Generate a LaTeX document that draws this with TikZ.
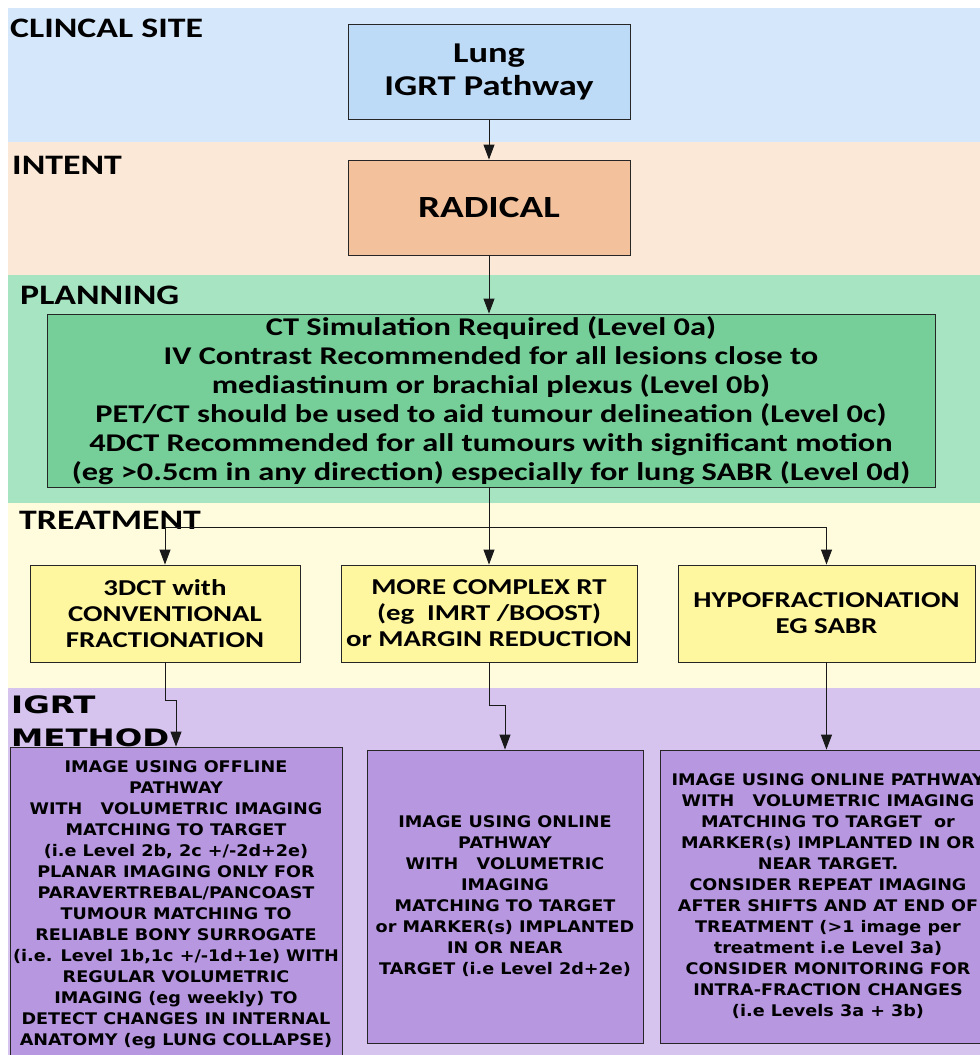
\documentclass[tikz,border=0pt]{standalone}
\usepackage{fontspec}
\usetikzlibrary{arrows.meta}

\newfontfamily\calfont[FakeStretch=1.27]{Carlito}
\newfontfamily\vfont[FakeStretch=1.1]{DejaVu Sans}
\newfontfamily\vwidefont[FakeStretch=1.35]{DejaVu Sans}

\definecolor{siteband}{RGB}{213,232,251}
\definecolor{sitefill}{RGB}{189,219,247}
\definecolor{intentband}{RGB}{251,232,214}
\definecolor{intentfill}{RGB}{243,193,156}
\definecolor{planband}{RGB}{166,228,194}
\definecolor{planfill}{RGB}{118,206,152}
\definecolor{treatband}{RGB}{255,252,222}
\definecolor{treatfill}{RGB}{255,246,160}
\definecolor{igrtband}{RGB}{214,195,238}
\definecolor{igrtfill}{RGB}{183,152,224}

\begin{document}
\begin{tikzpicture}[x=1pt,y=-1pt]
	\tikzset{box/.style = {draw=black!85, line width=0.9pt, inner sep=0pt, align=center},
		flow/.style = {-{Triangle[width=11pt,length=15pt]}, line width=0.9pt, black!90},
		lbl/.style = {anchor=base west, inner sep=0pt, font=\calfont\bfseries\fontsize{28.2}{30}\selectfont},
		calbox/.style = {box, font=\calfont\bfseries\fontsize{22.7}{26}\selectfont},
		igbox/.style = {box, fill=igrtfill, font=\vfont\bfseries\fontsize{16}{21}\selectfont}}

	\useasboundingbox (0,0) rectangle (980,1055);
	\begin{scope}
	\clip (0,0) rectangle (980,1055);

	% swim lanes
	\fill[siteband] (8,8) rectangle (980,142);
	\fill[intentband] (8,142) rectangle (980,275);
	\fill[planband] (8,275) rectangle (980,503);
	\fill[treatband] (8,503) rectangle (980,688);
	\fill[igrtband] (8,688) rectangle (980,1055);

	\node[lbl] (l_site) at (10,37) {CLINCAL SITE};
	\node[lbl] (l_intent) at (12,174) {INTENT};
	\node[lbl] (l_plan) at (20,304) {PLANNING};
	\node[lbl] (l_treat) at (19,529) {TREATMENT};
	\node[anchor=base west, inner sep=0pt, font=\vwidefont\bfseries\fontsize{24}{30}\selectfont] (l_igrt) at (11,713) {IGRT};
	\node[anchor=base west, inner sep=0pt, font=\vwidefont\bfseries\fontsize{24}{30}\selectfont] (l_method) at (11,746) {METHOD};

	% boxes
	\node[box, fill=sitefill, minimum width=282pt, minimum height=95pt,
		font=\calfont\bfseries\fontsize{28.7}{33}\selectfont] (site) at (489,72) {Lung\\IGRT Pathway};
	\node[box, fill=intentfill, minimum width=282pt, minimum height=95pt,
		font=\calfont\bfseries\fontsize{30.8}{34}\selectfont] (intent) at (489,207.5) {RADICAL};
	\node[box, fill=planfill, minimum width=888pt, minimum height=173pt,
		font=\calfont\bfseries\fontsize{25.5}{29}\selectfont] (plan) at (491,400.5)
		{CT Simulation Required (Level 0a)\\
		IV Contrast Recommended for all lesions close to\\
		mediastinum or brachial plexus (Level 0b)\\
		PET/CT should be used to aid tumour delineation (Level 0c)\\
		4DCT Recommended for all tumours with significant motion\\
		(eg >0.5cm in any direction) especially for lung SABR (Level 0d)};

	\node[calbox, fill=treatfill, minimum width=270pt, minimum height=97pt] (tr1) at (165,613.5)
		{3DCT with\\CONVENTIONAL\\FRACTIONATION};
	\node[calbox, fill=treatfill, minimum width=296pt, minimum height=97pt] (tr2) at (489,613.5)
		{MORE COMPLEX RT\\(eg\ \ IMRT /BOOST)\\or MARGIN REDUCTION};
	\node[calbox, fill=treatfill, minimum width=297pt, minimum height=97pt] (tr3) at (826.5,613.5)
		{HYPOFRACTIONATION\\EG SABR};

	\node[igbox, minimum width=332pt, minimum height=316pt] (ig1) at (176,905)
		{IMAGE USING OFFLINE\\
		PATHWAY\\
		WITH\ \ \ VOLUMETRIC IMAGING\\
		MATCHING TO TARGET\\
		(i.e Level 2b, 2c +/-2d+2e)\\
		PLANAR IMAGING ONLY FOR\\
		PARAVERTREBAL/PANCOAST\\
		TUMOUR MATCHING TO\\
		RELIABLE BONY SURROGATE\\
		(i.e. Level 1b,1c +/-1d+1e) WITH\\
		REGULAR VOLUMETRIC\\
		IMAGING (eg weekly) TO\\
		DETECT CHANGES IN INTERNAL\\
		ANATOMY (eg LUNG COLLAPSE)};
	\node[igbox, minimum width=276pt, minimum height=293pt] (ig2) at (505,896.5)
		{IMAGE USING ONLINE\\
		PATHWAY\\
		WITH\ \ \ VOLUMETRIC\\
		IMAGING\\
		MATCHING TO TARGET\\
		or MARKER(s) IMPLANTED\\
		IN OR NEAR\\
		TARGET (i.e Level 2d+2e)};
	\node[igbox, minimum width=336pt, minimum height=293pt] (ig3) at (828,896.5)
		{IMAGE USING ONLINE PATHWAY\\
		WITH\ \ \ VOLUMETRIC IMAGING\\
		MATCHING TO TARGET\ \ or\\
		MARKER(s) IMPLANTED IN OR\\
		NEAR TARGET.\\
		CONSIDER REPEAT IMAGING\\
		AFTER SHIFTS AND AT END OF\\
		TREATMENT (>1 image per\\
		treatment i.e Level 3a)\\
		CONSIDER MONITORING FOR\\
		INTRA-FRACTION CHANGES\\
		(i.e Levels 3a + 3b)};

	% connectors
	\draw[flow] (site) -- (intent);
	\draw[flow] (intent.south) -- (intent.south |- plan.north);
	\draw[flow] (plan.south -| tr2.north) -- (tr2.north);
	\coordinate (split) at (489,527);
	\draw[flow] (split) -| (tr1.north);
	\draw[flow] (split) -| (tr3.north);
	\draw[flow] (tr1.south) -- ++(0,38) -| (ig1.north);
	\draw[flow] (tr2.south) -- ++(0,43) -| (ig2.north);
	\draw[flow] (tr3.south) -- (tr3.south |- ig3.north);
	\end{scope}
\end{tikzpicture}
\end{document}
